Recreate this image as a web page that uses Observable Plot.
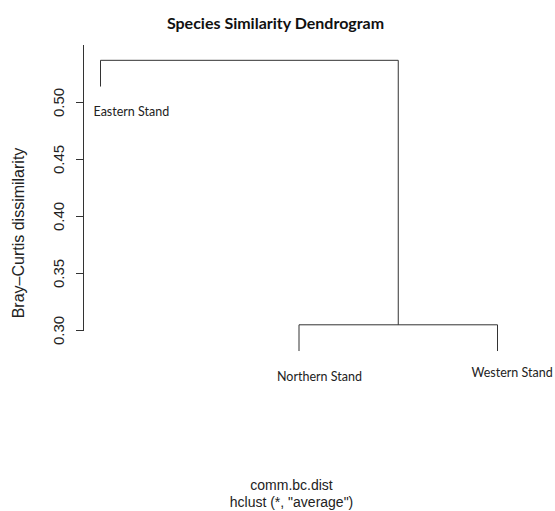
<!DOCTYPE html>
<html>
<head>
<meta charset="utf-8">
<script src="https://cdn.jsdelivr.net/npm/d3@7"></script>
<script src="https://cdn.jsdelivr.net/npm/@observablehq/plot@0.6"></script>
<style>
  html, body { margin: 0; padding: 0; background: #fff; }
</style>
</head>
<body>
<div id="chart"></div>
<script>
// Data (R hclust style)
const labels = ["Eastern Stand", "Northern Stand", "Western Stand"];
const leafOrder = [1, 2, 3];
const leafHeights = [0.514, 0.282, 0.282];
const merges = [[-2, -3], [-1, 1]];
const mergeHeights = [0.305, 0.537];
const yTicks = [0.30, 0.35, 0.40, 0.45, 0.50];
const title = "Species Similarity Dendrogram";
const yLabel = "Bray\u2013Curtis dissimilarity";
const subLines = ["comm.bc.dist", "hclust (*, \"average\")"];

// Build dendrogram segments
const clusters = [];
const segs = [];
function node(id) {
  if (id < 0) { const i = -id - 1; return { x: leafOrder[i], h: leafHeights[i] }; }
  return clusters[id - 1];
}
merges.forEach((m, k) => {
  const a = node(m[0]), b = node(m[1]);
  const h = mergeHeights[k];
  segs.push({ x1: a.x, y1: a.h, x2: a.x, y2: h });
  segs.push({ x1: b.x, y1: b.h, x2: b.x, y2: h });
  segs.push({ x1: a.x, y1: h, x2: b.x, y2: h });
  clusters.push({ x: (a.x + b.x) / 2, h });
});
const leaves = labels.map((name, i) => ({ name, x: leafOrder[i], h: leafHeights[i] }));

const lineColor = "#333";
const leafFont = { fontFamily: "Lato, 'Open Sans', sans-serif", fontSize: 12.5, fill: "#222" };
const arial = "'Liberation Sans', Arial, sans-serif";

const chart = Plot.plot({
  width: 555,
  height: 511,
  marginLeft: 83,
  marginRight: 0,
  marginTop: 45,
  marginBottom: 181,
  x: { domain: [1, 3], range: [100, 497], axis: null },
  y: { domain: [0.30, 0.50], range: [330, 102], axis: null },
  style: { background: "#fff", overflow: "visible" },
  marks: [
    Plot.frame({ anchor: "left", stroke: lineColor }),
    Plot.axisY(yTicks, { anchor: "left", tickSize: 7, tickFormat: () => "", label: null, stroke: lineColor }),
    Plot.text(yTicks, {
      y: d => d, text: d => d.toFixed(2), frameAnchor: "left", dx: -24,
      rotate: -90, textAnchor: "middle", lineAnchor: "middle",
      fontFamily: arial, fontSize: 15, fill: "#222"
    }),
    Plot.link(segs, { x1: "x1", y1: "y1", x2: "x2", y2: "y2", stroke: lineColor, strokeWidth: 1 }),
    Plot.text(leaves.slice(0, 1), { x: "x", y: "h", text: "name", textAnchor: "start", dx: -7, dy: 25, ...leafFont }),
    Plot.text(leaves.slice(1, 2), { x: "x", y: "h", text: "name", textAnchor: "start", dx: -22, dy: 26, ...leafFont }),
    Plot.text(leaves.slice(2, 3), { x: "x", y: "h", text: "name", textAnchor: "start", dx: -26, dy: 22, ...leafFont }),
    Plot.text([title], {
      text: d => d, frameAnchor: "top", dx: -44, dy: -28,
      fontFamily: "Lato, 'Open Sans', sans-serif", fontWeight: "bold", fontSize: 16, fill: "#111"
    }),
    Plot.text([yLabel], {
      text: d => d, frameAnchor: "left", dx: -65, dy: 45, rotate: -90,
      textAnchor: "middle", lineAnchor: "middle", fontFamily: arial, fontSize: 16, fill: "#222"
    }),
    Plot.text(subLines.slice(0, 1), {
      text: d => d, frameAnchor: "bottom", dx: -28, dy: 155, lineAnchor: "middle",
      fontFamily: arial, fontSize: 14, fill: "#222"
    }),
    Plot.text(subLines.slice(1, 2), {
      text: d => d, frameAnchor: "bottom", dx: -28, dy: 172, lineAnchor: "middle",
      fontFamily: arial, fontSize: 14, fill: "#222"
    })
  ]
});
document.getElementById("chart").appendChild(chart);
</script>
</body>
</html>
